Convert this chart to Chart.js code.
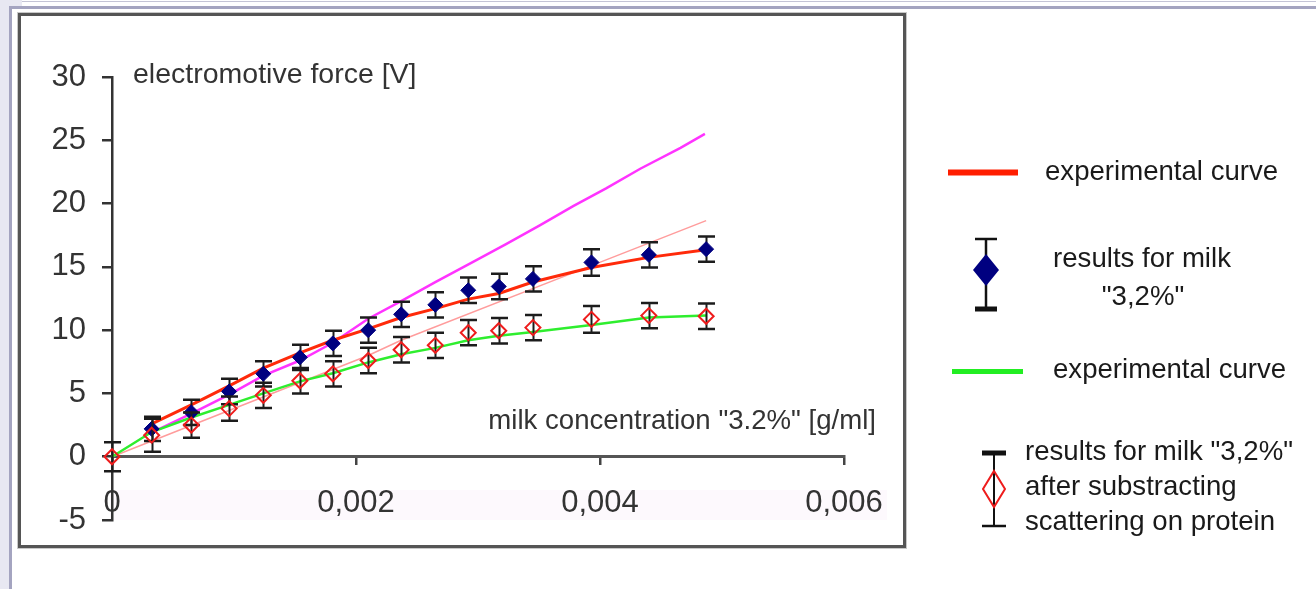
<!DOCTYPE html>
<html>
<head>
<meta charset="utf-8">
<script src="https://cdn.jsdelivr.net/npm/chart.js@4/dist/chart.umd.min.js"></script>
<style>
  html, body { margin: 0; padding: 0; background: #ffffff; width: 1316px; height: 589px; overflow: hidden; }
  .abs { position: absolute; }
  #c { position: absolute; left: 0; top: 0; }
</style>
</head>
<body>
<div class="abs" style="left:0;top:0;width:9px;height:589px;background:#e8e8f2;"></div>
<div class="abs" style="left:0;top:0;width:22px;height:7px;background:#e8e8f2;"></div>
<div class="abs" style="left:22px;top:1px;width:1294px;height:1px;background:#c4c4d6;"></div>
<div class="abs" style="left:9px;top:6px;width:1307px;height:3px;background:#a4a4c0;"></div>
<div class="abs" style="left:9px;top:6px;width:3px;height:583px;background:#a4a4c0;"></div>
<div class="abs" style="left:18px;top:13px;width:882px;height:529px;border:3px solid #555;box-shadow:0 0 0 1px #c8c8c8;"></div>
<div class="abs" style="left:110px;top:490px;width:777px;height:30px;background:#fdf9fd;"></div>
<canvas id="c" width="1316" height="589"></canvas>
<script>
// ---------------- data ----------------
const xTickLabels = ['0', '0,002', '0,004', '0,006'];
const yTickLabels = ['-5', '0', '5', '10', '15', '20', '25', '30'];

// measured concentrations [g/ml]
const xMilk = [0.000325, 0.00065, 0.00096, 0.00124, 0.00154, 0.00181, 0.0021, 0.00237, 0.00265, 0.00292, 0.00317, 0.00345, 0.00393, 0.0044, 0.00487];
// results for milk "3,2%"
const milkResults = [2.2, 3.5, 5.15, 6.55, 7.85, 8.95, 10.0, 11.25, 12.0, 13.15, 13.45, 14.05, 15.35, 15.95, 16.4];
const milkErrors  = [0.95, 1.0, 1.0, 1.0, 1.0, 1.0, 1.0, 1.0, 1.0, 1.0, 1.0, 1.0, 1.05, 1.0, 1.0];

// results after substracting scattering on protein
const xCorrected = [0, 0.000325, 0.00065, 0.00096, 0.00124, 0.00154, 0.00181, 0.0021, 0.00237, 0.00265, 0.00292, 0.00317, 0.00345, 0.00393, 0.0044, 0.00487];
const correctedResults = [0, 1.7, 2.5, 3.8, 4.85, 6.0, 6.55, 7.6, 8.45, 8.8, 9.8, 9.95, 10.2, 10.85, 11.15, 11.1];
const correctedErrors  = [1.15, 1.3, 1.0, 0.95, 1.0, 1.0, 1.0, 1.0, 1.0, 1.0, 1.0, 1.0, 1.0, 1.05, 1.0, 1.0];

// experimental curve (red) through milk results
const xRedCurve = [0.000325, 0.00065, 0.00096, 0.00124, 0.00154, 0.00181, 0.0021, 0.00237, 0.00265, 0.00292, 0.00317, 0.00345, 0.00393, 0.0044, 0.00487];
const redCurve  = [2.6, 4.1, 5.6, 7.0, 8.2, 9.2, 10.1, 11.0, 11.7, 12.45, 12.9, 13.8, 14.95, 15.75, 16.35];

// experimental curve (green) through corrected results
const xGreenCurve = [0, 0.000325, 0.00065, 0.00096, 0.00124, 0.00154, 0.00181, 0.0021, 0.00237, 0.00265, 0.00292, 0.00317, 0.00345, 0.00393, 0.0044, 0.00487];
const greenCurve  = [0, 1.95, 3.1, 4.1, 5.0, 5.95, 6.6, 7.45, 8.1, 8.6, 9.2, 9.55, 9.85, 10.4, 11.0, 11.15];

// magenta curve
const xMagenta = [0.000325, 0.00065, 0.00096, 0.00124, 0.00154, 0.00181, 0.0021, 0.00237, 0.00265, 0.00296, 0.00323, 0.00351, 0.00378, 0.00405, 0.00433, 0.00466, 0.00486];
const magentaCurve = [1.9, 3.4, 4.9, 6.4, 7.6, 9.0, 10.9, 12.3, 13.8, 15.4, 16.8, 18.3, 19.8, 21.2, 22.75, 24.4, 25.5];

// thin light-red straight line
const xPinkLine = [0, 0.0021, 0.00237, 0.00393, 0.00487];
const pinkLine  = [0, 8.0, 9.2, 15.1, 18.65];

const legendTexts = {
  red: 'experimental curve',
  milk: ['results for milk', '"3,2%"'],
  green: 'experimental curve',
  corrected: ['results for milk "3,2%"', 'after substracting', 'scattering on protein']
};
const yTitle = 'electromotive force [V]';
const xTitle = 'milk concentration "3.2%" [g/ml]';

// ---------------- helpers ----------------
const pts = (xs, ys) => xs.map((x, i) => ({ x: x, y: ys[i] }));
const FONT = '"Liberation Sans", Arial, sans-serif';

const errorBarPlugin = {
  id: 'errorBars',
  beforeDatasetDraw(chart, args) {
    const ds = chart.data.datasets[args.index];
    if (!ds.errors) return;
    const ctx = chart.ctx, xs = chart.scales.x, ys = chart.scales.y;
    ctx.save();
    ctx.strokeStyle = '#1c1c1c';
    ds.data.forEach((p, i) => {
      const e = ds.errors[i];
      const px = Math.round(xs.getPixelForValue(p.x)) + 0.5;
      const t = ys.getPixelForValue(p.y + e);
      const b = ys.getPixelForValue(p.y - e);
      ctx.lineWidth = 2;
      ctx.beginPath(); ctx.moveTo(px, t); ctx.lineTo(px, b); ctx.stroke();
      ctx.lineWidth = 2.5;
      ctx.beginPath();
      ctx.moveTo(px - 8.5, t); ctx.lineTo(px + 8.5, t);
      ctx.moveTo(px - 8.5, b); ctx.lineTo(px + 8.5, b);
      ctx.stroke();
    });
    ctx.restore();
  }
};

function diamond(ctx, cx, cy, hw, hh) {
  ctx.beginPath();
  ctx.moveTo(cx, cy - hh); ctx.lineTo(cx + hw, cy); ctx.lineTo(cx, cy + hh); ctx.lineTo(cx - hw, cy);
  ctx.closePath();
}

const textPlugin = {
  id: 'texts',
  afterDraw(chart) {
    const ctx = chart.ctx;
    ctx.save();
    // axis titles
    ctx.fillStyle = '#333';
    ctx.textBaseline = 'alphabetic';
    ctx.textAlign = 'left';
    ctx.font = '28.5px ' + FONT;
    ctx.fillText(yTitle, 133, 83);
    ctx.textAlign = 'right';
    ctx.font = '27.6px ' + FONT;
    ctx.fillText(xTitle, 876, 429);

    // legend
    ctx.font = '27.6px ' + FONT;
    ctx.fillStyle = '#1a1a1a';
    ctx.textAlign = 'left';
    // 1 red line
    ctx.strokeStyle = '#ff1e00'; ctx.lineWidth = 6;
    ctx.beginPath(); ctx.moveTo(948, 172.5); ctx.lineTo(1018, 172.5); ctx.stroke();
    ctx.fillText(legendTexts.red, 1045, 180);
    // 2 milk results symbol
    ctx.strokeStyle = '#111'; ctx.lineWidth = 2.5;
    ctx.beginPath(); ctx.moveTo(986, 238); ctx.lineTo(986, 310); ctx.stroke();
    ctx.beginPath(); ctx.moveTo(975, 239); ctx.lineTo(997, 239); ctx.stroke();
    ctx.lineWidth = 5;
    ctx.beginPath(); ctx.moveTo(975, 309); ctx.lineTo(997, 309); ctx.stroke();
    ctx.fillStyle = '#000080';
    diamond(ctx, 986, 270, 13, 16); ctx.fill();
    ctx.fillStyle = '#1a1a1a';
    ctx.textAlign = 'center';
    ctx.fillText(legendTexts.milk[0], 1142, 267);
    ctx.fillText(legendTexts.milk[1], 1143, 305);
    // 3 green line
    ctx.strokeStyle = '#22ee22'; ctx.lineWidth = 5;
    ctx.beginPath(); ctx.moveTo(952, 371.5); ctx.lineTo(1023, 371.5); ctx.stroke();
    ctx.textAlign = 'left';
    ctx.fillText(legendTexts.green, 1053, 378);
    // 4 corrected results symbol
    ctx.strokeStyle = '#111'; ctx.lineWidth = 2;
    ctx.beginPath(); ctx.moveTo(994, 452); ctx.lineTo(994, 526); ctx.stroke();
    ctx.lineWidth = 5;
    ctx.beginPath(); ctx.moveTo(982, 453); ctx.lineTo(1006, 453); ctx.stroke();
    ctx.lineWidth = 2.5;
    ctx.beginPath(); ctx.moveTo(982, 526); ctx.lineTo(1006, 526); ctx.stroke();
    ctx.strokeStyle = '#ee1c1c'; ctx.lineWidth = 2;
    diamond(ctx, 994, 489, 11, 18); ctx.stroke();
    ctx.fillText(legendTexts.corrected[0], 1025, 460);
    ctx.fillText(legendTexts.corrected[1], 1025, 495);
    ctx.fillText(legendTexts.corrected[2], 1025, 530);
    ctx.restore();
  }
};

new Chart(document.getElementById('c'), {
  data: {
    datasets: [
      { type: 'line', label: 'linear', data: pts(xPinkLine, pinkLine), borderColor: '#ff9c9c', borderWidth: 1.5, pointRadius: 0, tension: 0, clip: false, order: 6 },
      { type: 'line', label: 'magenta', data: pts(xMagenta, magentaCurve), borderColor: '#ff33ff', borderWidth: 2.5, pointRadius: 0, tension: 0, clip: false, order: 5 },
      { type: 'line', label: 'experimental curve (green)', data: pts(xGreenCurve, greenCurve), borderColor: '#2eee2e', borderWidth: 2.5, pointRadius: 0, tension: 0, clip: false, order: 4 },
      { type: 'line', label: 'experimental curve (red)', data: pts(xRedCurve, redCurve), borderColor: '#ff2a0a', borderWidth: 3, pointRadius: 0, tension: 0, clip: false, order: 3 },
      { type: 'scatter', label: 'results for milk "3,2%"', data: pts(xMilk, milkResults), errors: milkErrors,
        pointStyle: 'rectRot', pointRadius: 7.5, backgroundColor: '#000080', borderColor: '#000080', borderWidth: 1, clip: false, order: 2 },
      { type: 'scatter', label: 'after substracting scattering on protein', data: pts(xCorrected, correctedResults), errors: correctedErrors,
        pointStyle: 'rectRot', pointRadius: 7.5, backgroundColor: 'rgba(255,255,255,0)', borderColor: '#ee1c1c', borderWidth: 2, clip: false, order: 1 }
    ]
  },
  options: {
    responsive: false,
    animation: false,
    devicePixelRatio: 1,
    layout: { padding: { left: 0, right: 472, top: 77, bottom: 69 } },
    plugins: { legend: { display: false }, tooltip: { enabled: false } },
    scales: {
      x: {
        type: 'linear', min: 0, max: 0.006, position: { y: 0 },
        ticks: { stepSize: 0.002, autoSkip: false, maxRotation: 0, padding: 21, color: '#333',
                 font: { size: 31, family: FONT }, callback: (v, i) => xTickLabels[i] },
        grid: { drawOnChartArea: false, tickLength: 7, color: '#444', lineWidth: 2.5 },
        border: { color: '#555', width: 3 },
        afterFit(s) { s.height = 0; }
      },
      y: {
        type: 'linear', min: -5, max: 30, position: 'left',
        ticks: { stepSize: 5, padding: 16, color: '#333', font: { size: 31, family: FONT },
                 callback: (v, i) => yTickLabels[i] },
        grid: { drawOnChartArea: false, tickLength: 10, color: '#333', lineWidth: 2.5 },
        border: { color: '#333', width: 2.5 },
        afterFit(s) { s.width = 112; }
      }
    }
  },
  plugins: [errorBarPlugin, textPlugin]
});
</script>
</body>
</html>
